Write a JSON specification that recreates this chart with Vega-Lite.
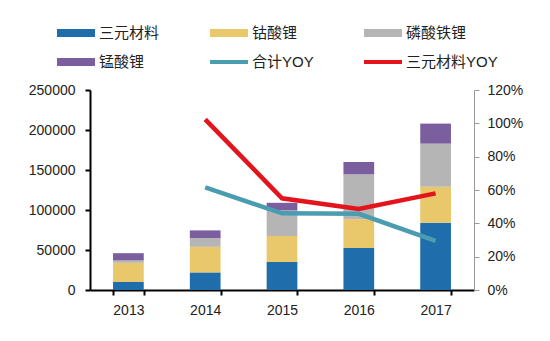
{
  "$schema": "https://vega.github.io/schema/vega-lite/v6.json",
  "autosize": {"type": "none"},
  "width": 384,
  "height": 200,
  "padding": {"left": 90, "top": 90, "right": 76, "bottom": 51},
  "background": "white",
  "config": {
    "view": {"stroke": null},
    "font": "Liberation Sans"
  },
  "datasets": {
    "bars": [
      {"year": "2013", "name": "三元材料", "k": 1, "value": 10000},
      {"year": "2013", "name": "钴酸锂", "k": 2, "value": 24000},
      {"year": "2013", "name": "磷酸铁锂", "k": 3, "value": 3000},
      {"year": "2013", "name": "锰酸锂", "k": 4, "value": 9000},
      {"year": "2014", "name": "三元材料", "k": 1, "value": 22000},
      {"year": "2014", "name": "钴酸锂", "k": 2, "value": 32000},
      {"year": "2014", "name": "磷酸铁锂", "k": 3, "value": 11000},
      {"year": "2014", "name": "锰酸锂", "k": 4, "value": 9500},
      {"year": "2015", "name": "三元材料", "k": 1, "value": 35000},
      {"year": "2015", "name": "钴酸锂", "k": 2, "value": 32500},
      {"year": "2015", "name": "磷酸铁锂", "k": 3, "value": 32000},
      {"year": "2015", "name": "锰酸锂", "k": 4, "value": 9500},
      {"year": "2016", "name": "三元材料", "k": 1, "value": 52500},
      {"year": "2016", "name": "钴酸锂", "k": 2, "value": 36000},
      {"year": "2016", "name": "磷酸铁锂", "k": 3, "value": 56000},
      {"year": "2016", "name": "锰酸锂", "k": 4, "value": 15500},
      {"year": "2017", "name": "三元材料", "k": 1, "value": 84000},
      {"year": "2017", "name": "钴酸锂", "k": 2, "value": 45000},
      {"year": "2017", "name": "磷酸铁锂", "k": 3, "value": 54000},
      {"year": "2017", "name": "锰酸锂", "k": 4, "value": 25000}
    ],
    "lines": [
      {"year": "2014", "name": "合计YOY", "yoy": 0.616},
      {"year": "2015", "name": "合计YOY", "yoy": 0.46},
      {"year": "2016", "name": "合计YOY", "yoy": 0.457},
      {"year": "2017", "name": "合计YOY", "yoy": 0.295},
      {"year": "2014", "name": "三元材料YOY", "yoy": 1.024},
      {"year": "2015", "name": "三元材料YOY", "yoy": 0.55},
      {"year": "2016", "name": "三元材料YOY", "yoy": 0.486},
      {"year": "2017", "name": "三元材料YOY", "yoy": 0.58}
    ]
  },
  "encoding": {
    "x": {
      "field": "year",
      "type": "nominal",
      "scale": {"paddingInner": 0.6, "paddingOuter": 0.3},
      "axis": {
        "title": null,
        "labelAngle": 0,
        "labelFontSize": 14,
        "labelColor": "#222",
        "labelPadding": 8,
        "domainColor": "#000",
        "domainWidth": 2,
        "tickColor": "#000",
        "tickWidth": 2,
        "tickSize": 5,
        "tickBand": "extent"
      }
    }
  },
  "layer": [
    {
      "data": {"name": "bars"},
      "mark": {"type": "bar"},
      "encoding": {
        "y": {
          "field": "value",
          "type": "quantitative",
          "stack": "zero",
          "scale": {"domain": [0, 250000], "nice": false},
          "axis": {
            "title": null,
            "orient": "left",
            "values": [0, 50000, 100000, 150000, 200000, 250000],
            "format": "d",
            "grid": false,
            "labelFontSize": 14,
            "labelColor": "#222",
            "labelPadding": 10,
            "domainColor": "#000",
            "domainWidth": 2,
            "tickColor": "#000",
            "tickWidth": 2,
            "tickSize": 5
          }
        },
        "order": {"field": "k", "type": "quantitative", "sort": "ascending"},
        "color": {
          "field": "name",
          "type": "nominal",
          "scale": {
            "domain": ["三元材料", "钴酸锂", "磷酸铁锂", "锰酸锂", "合计YOY", "三元材料YOY"],
            "range": ["#1f6dab", "#e8c86a", "#b5b5b5", "#7a5e9e", "#4a9db0", "#e3141b"]
          },
          "legend": {
            "title": null,
            "orient": "none",
            "legendX": -33,
            "legendY": -76,
            "direction": "horizontal",
            "columns": 3,
            "columnPadding": 50,
            "rowPadding": 2,
            "symbolSize": 1444,
            "symbolType": "M-1,-0.21L1,-0.21L1,0.21L-1,0.21Z",
            "symbolStrokeWidth": 0,
            "labelFont": "Liberation Sans, Noto Sans CJK SC",
            "labelFontSize": 15,
            "labelColor": "#222",
            "labelOffset": 4,
            "labelLimit": 200,
            "encode": {
              "symbols": {
                "update": {
                  "shape": {"signal": "indexof(['合计YOY','三元材料YOY'], datum.value) >= 0 ? 'M-1,-0.11L1,-0.11L1,0.11L-1,0.11Z' : 'M-1,-0.21L1,-0.21L1,0.21L-1,0.21Z'"},
                  "size": {"value": 1444},
                  "fill": {"scale": "color", "field": "value"},
                  "strokeWidth": {"value": 0},
                  "opacity": {"value": 1}
                }
              }
            }
          }
        }
      }
    },
    {
      "data": {"name": "lines"},
      "mark": {"type": "line", "strokeWidth": 4.5},
      "encoding": {
        "y": {
          "field": "yoy",
          "type": "quantitative",
          "scale": {"domain": [0, 1.2], "nice": false},
          "axis": {
            "title": null,
            "orient": "right",
            "values": [0, 0.2, 0.4, 0.6, 0.8, 1.0, 1.2],
            "format": ".0%",
            "grid": false,
            "labelFontSize": 14,
            "labelColor": "#222",
            "labelPadding": 8,
            "domainColor": "#999",
            "domainWidth": 1,
            "tickColor": "#999",
            "tickSize": 5
          }
        },
        "color": {"field": "name", "type": "nominal"}
      }
    }
  ],
  "resolve": {"scale": {"y": "independent"}}
}
